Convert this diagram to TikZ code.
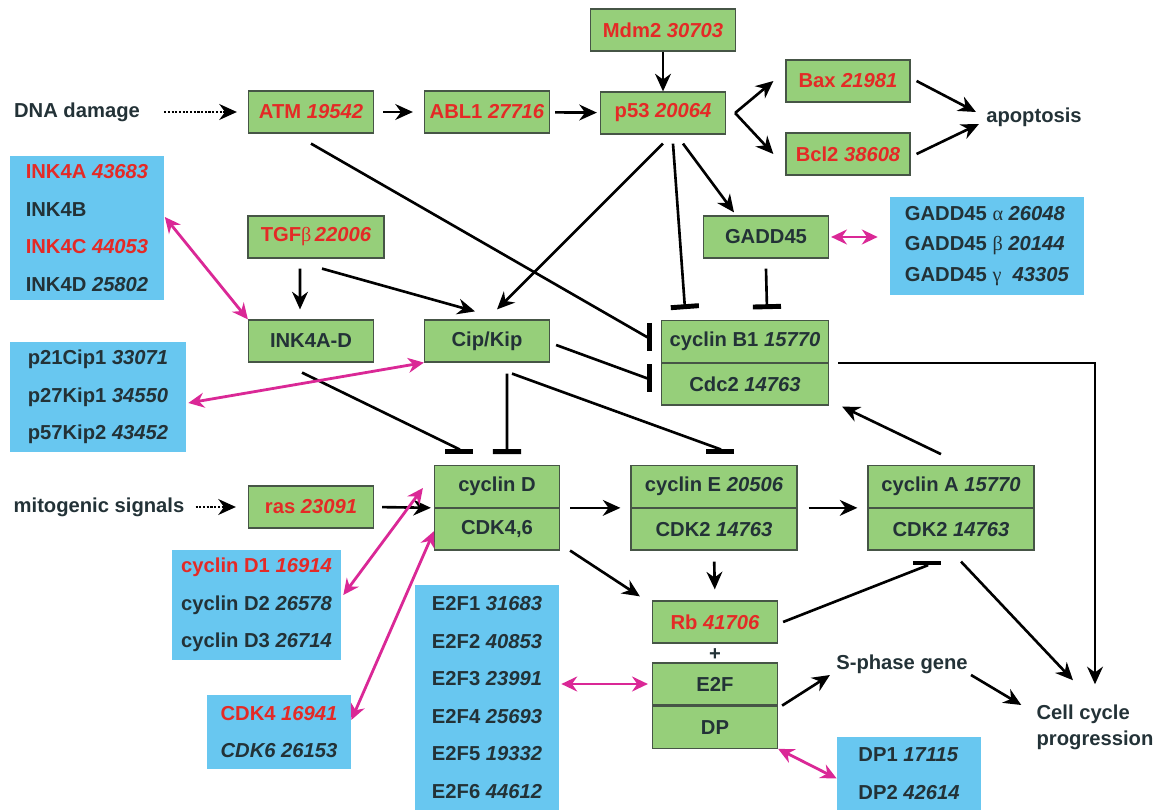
\documentclass[tikz,border=0pt]{standalone}
\usepackage{fontspec}
\setmainfont{Liberation Sans}
\newfontfamily\grk{Liberation Serif}
\usetikzlibrary{arrows.meta,positioning}
\definecolor{leaf}{RGB}{150,207,122}
\definecolor{sky}{RGB}{104,199,240}
\definecolor{alarm}{RGB}{228,42,38}
\definecolor{ink}{RGB}{35,50,55}
\definecolor{edge}{RGB}{70,85,70}
\definecolor{mag}{RGB}{218,40,150}

\tikzset{
  gbox/.style={draw=edge, fill=leaf, line width=0.7pt, minimum width=2.5cm, minimum height=0.84cm, inner sep=0pt, text=ink},
  hot/.style={text=alarm},
  bbox/.style={fill=sky, inner sep=0pt, align=left, text=ink, font=\fontsize{11.5}{21.3}\selectfont\bfseries},
  lbl/.style={inner sep=0pt, text=ink},
  arr/.style={-{Stealth[length=10pt,width=9pt]}, line width=1.5pt},
  dots/.style={arr, dash pattern=on 1.2pt off 0.9pt},
  inh/.style={-{Bar[width=16pt,line width=2.8pt]}, line width=1.5pt},
  duo/.style={{Stealth[length=9pt,width=8.5pt]}-{Stealth[length=9pt,width=8.5pt]}, line width=1.6pt, draw=mag}
}
\newcommand{\gk}[1]{{\grk\mdseries\upshape #1}}

\begin{document}
\begin{tikzpicture}[x=0.02cm, y=-0.02cm, font=\fontsize{11.5}{13}\selectfont\bfseries]
\useasboundingbox (0,0) rectangle (1164,810);

% green boxes
\node[gbox, hot, minimum width=2.9cm] (mdm) at (663,30) {Mdm2 \textit{30703}};
\node[gbox, hot] (atm) at (311,112) {ATM \textit{19542}};
\node[gbox, hot] (abl) at (487,112) {ABL1 \textit{27716}};
\node[gbox, hot] (p53) at (663,113) {p53 \textit{20064}};
\node[gbox, hot, minimum width=2.48cm] (bax) at (848,81) {Bax \textit{21981}};
\node[gbox, hot, minimum width=2.48cm] (bcl) at (848,154) {Bcl2 \textit{38608}};
\node[gbox] (gadd) at (766,237) {GADD45};
\node[gbox, hot, minimum width=2.72cm] (tgf) at (316,237) {TGF\gk{β}\,\textit{22006}};
\node[gbox] (inkad) at (311,341) {INK4A-D};
\node[gbox] (cip) at (487,341) {Cip/Kip};
\node[gbox, minimum width=3.34cm, minimum height=0.83cm] (cycb) at (745,341.5) {cyclin B1 \textit{15770}};
\node[gbox, minimum width=3.34cm, minimum height=0.83cm, below=0pt of cycb] (cdc2) {Cdc2 \textit{14763}};
\node[gbox, hot] (ras) at (311,507) {ras \textit{23091}};
\node[gbox, minimum height=0.83cm] (cycd) at (497,486.5) {cyclin D};
\node[gbox, minimum height=0.83cm, below=0pt of cycd] (cdk46) {CDK4,6};
\node[gbox, minimum width=3.32cm, minimum height=0.83cm] (cyce) at (714,486.5) {cyclin E \textit{20506}};
\node[gbox, minimum width=3.32cm, minimum height=0.83cm, below=0pt of cyce] (cdk2e) {CDK2 \textit{14763}};
\node[gbox, minimum width=3.32cm, minimum height=0.83cm] (cyca) at (951,486.5) {cyclin A \textit{15770}};
\node[gbox, minimum width=3.32cm, minimum height=0.83cm, below=0pt of cyca] (cdk2a) {CDK2 \textit{14763}};
\node[gbox, hot] (rb) at (715,622) {Rb \textit{41706}};
\node[lbl] (plus) at (715,655) {+};
\node[gbox] (e2f) at (715,684) {E2F};
\node[gbox, below=0pt of e2f] (dp) {DP};

% blue families
\node[bbox, minimum width=3.1cm, minimum height=2.9cm] (ink) at (87,228)
  {{\color{alarm}INK4A \textit{43683}}\\INK4B\\{\color{alarm}INK4C \textit{44053}}\\INK4D \textit{25802}};
\node[bbox, minimum width=3.88cm, minimum height=1.96cm, font=\fontsize{11.5}{17.3}\selectfont\bfseries] (gaddfam) at (987,246)
  {GADD45 \gk{α} \textit{26048}\\GADD45 \gk{β} \textit{20144}\\GADD45 \gk{γ}\ \ \textit{43305}};
\node[bbox, minimum width=3.52cm, minimum height=2.22cm] (p21) at (98,397)
  {p21Cip1 \textit{33071}\\p27Kip1 \textit{34550}\\p57Kip2 \textit{43452}};
\node[bbox, minimum width=3.38cm, minimum height=2.2cm] (cycdfam) at (256.5,605)
  {{\color{alarm}cyclin D1 \textit{16914}}\\cyclin D2 \textit{26578}\\cyclin D3 \textit{26714}};
\node[bbox, minimum width=2.88cm, minimum height=1.48cm] (cdkfam) at (279,732)
  {{\color{alarm}CDK4 \textit{16941}}\\\textit{CDK6 26153}};
\node[bbox, minimum width=2.88cm, minimum height=4.5cm] (e2ffam) at (487,697.5)
  {E2F1 \textit{31683}\\E2F2 \textit{40853}\\E2F3 \textit{23991}\\E2F4 \textit{25693}\\E2F5 \textit{19332}\\E2F6 \textit{44612}};
\node[bbox, minimum width=2.88cm, minimum height=1.46cm] (dpfam) at (909,773.5)
  {DP1 \textit{17115}\\DP2 \textit{42614}};

% plain labels
\node[lbl] (dna) at (77,112) {DNA damage};
\node[lbl] (mito) at (99,507) {mitogenic signals};
\node[lbl] (apop) at (1034,117) {apoptosis};
\node[lbl] (sph) at (902,664) {S-phase gene};
\node[lbl, align=left, font=\fontsize{11.5}{14.7}\selectfont\bfseries] (ccp) at (1095,727) {Cell cycle\\progression};

% activation
\draw[dots, shorten <=0.48cm, shorten >=0.22cm] (dna) -- (atm);
\draw[dots, shorten <=0.22cm, shorten >=0.24cm] (mito) -- (ras);
\draw[arr, shorten <=0.18cm, shorten >=0.22cm] (atm) -- (abl);
\draw[arr, shorten <=0.1cm, shorten >=0.06cm] (abl) -- (p53);
\draw[arr] (mdm) -- (p53);
\draw[arr] ([xshift=0.18cm]p53.east) -- ([xshift=-0.24cm]bax.west);
\draw[arr] ([xshift=0.18cm]p53.east) -- ([xshift=-0.24cm]bcl.west);
\draw[arr] ([xshift=0.12cm]bax.east) -- ([xshift=-0.2cm,yshift=0.1cm]apop.west);
\draw[arr] ([xshift=0.12cm]bcl.east) -- ([xshift=-0.14cm,yshift=-0.14cm]apop.west);
\draw[arr] ([yshift=-0.18cm]p53.south) -- ([xshift=0.2cm,yshift=0.2cm]cip.north);
\draw[arr] ([xshift=0.4cm,yshift=-0.18cm]p53.south) -- ([xshift=-0.64cm,yshift=0.06cm]gadd.north);
\draw[arr] ([xshift=-0.32cm,yshift=-0.2cm]tgf.south) -- ([xshift=-0.22cm,yshift=0.2cm]inkad.north);
\draw[arr] ([xshift=0.12cm,yshift=-0.2cm]tgf.south) -- ([xshift=-0.24cm,yshift=0.16cm]cip.north);
\draw[arr, shorten <=0.16cm, shorten >=0.06cm] (ras.east) -- (cycd.south west);
\draw[arr, shorten <=0.2cm, shorten >=0.2cm] (cycd.south east) -- (cyce.south west);
\draw[arr, shorten <=0.22cm, shorten >=0.2cm] (cyce.south east) -- (cyca.south west);
\draw[arr] ([xshift=0.2cm]cdk46.south east) -- ([xshift=-0.24cm,yshift=0.08cm]rb.north west);
\draw[arr, shorten <=0.22cm, shorten >=0.22cm] (cdk2e.south) -- (rb.north);
\draw[arr] ([xshift=-0.2cm,yshift=0.22cm]cyca.north) -- ([xshift=0.26cm,yshift=-0.02cm]cdc2.south east);
\draw[arr] ([xshift=0.2cm,yshift=-0.22cm]cdk2a.south) -- ([xshift=-0.44cm,yshift=0.48cm]ccp.north);
\draw[arr, shorten >=0.4cm] ([xshift=0.18cm]cycb.south east) -| (ccp.north);
\draw[arr] ([xshift=0.08cm]e2f.south east) -- ([xshift=-0.12cm,yshift=-0.22cm]sph.west);
\draw[arr] ([xshift=0.06cm,yshift=-0.22cm]sph.east) -- ([xshift=-0.3cm,yshift=0.44cm]ccp.west);

% inhibition
\draw[inh] ([xshift=0.2cm,yshift=-0.18cm]p53.south) -- ([xshift=-1.2cm,yshift=0.22cm]cycb.north);
\draw[inh] ([yshift=-0.2cm]gadd.south) -- ([xshift=0.02cm,yshift=0.22cm]gadd.south |- cycb.north);
\draw[inh] ([yshift=-0.2cm]atm.south) -- ([xshift=-0.28cm,yshift=0.09cm]cycb.west) -- ++(5,0);
\draw[inh] ([xshift=0.12cm,yshift=-0.08cm]cip.east) -- ([xshift=-0.28cm,yshift=0.12cm]cdc2.west) -- ++(5,0);
\draw[inh] ([xshift=-0.18cm,yshift=-0.2cm]inkad.south) -- ([xshift=-0.76cm,yshift=0.32cm]cycd.north) -- ++(0,5);
\draw[inh] ([xshift=0.4cm,yshift=-0.22cm]cip.south) -- ([xshift=0.2cm,yshift=0.22cm]cycd.north);
\draw[inh] ([xshift=0.5cm,yshift=-0.22cm]cip.south) -- ([xshift=0.12cm,yshift=0.32cm]cyce.north) -- ++(0,5);
\draw[inh] ([xshift=0.1cm]rb.east) -- ([xshift=-0.48cm,yshift=-0.3cm]cdk2a.south) -- ++(0,-5);

% family links
\draw[duo, shorten <=0.04cm, shorten >=0.24cm] (gadd.east) -- (gadd.east -| gaddfam.west);
\draw[duo] ([yshift=0.22cm]ink.east) -- (inkad.north west);
\draw[duo] ([xshift=0.04cm,yshift=-0.12cm]p21.east) -- (cip.south west);
\draw[duo] ([xshift=0.04cm,yshift=0.2cm]cycdfam.east) -- ([xshift=-0.22cm,yshift=-0.03cm]cycd.west);
\draw[duo] ([yshift=0.24cm]cdkfam.east) -- ([yshift=-0.04cm]cdk46.west);
\draw[duo, shorten <=0.04cm, shorten >=0.08cm] (e2f.west -| e2ffam.east) -- (e2f.west);
\draw[duo] (dp.south east) -- ([yshift=-0.1cm]dpfam.west);
\end{tikzpicture}
\end{document}
